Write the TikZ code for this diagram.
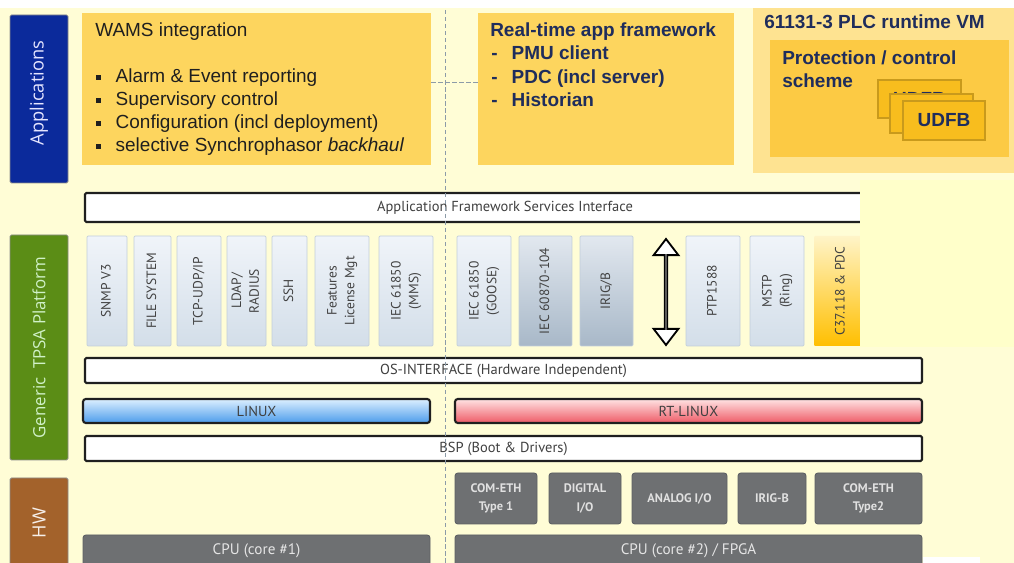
\documentclass[tikz,border=0pt]{standalone}
\usepackage{fontspec}
\setmainfont{Liberation Sans}
\newfontfamily\ptsans{PT Sans}
\newfontfamily\opensans{Open Sans}
\usepackage{tikz}
\usetikzlibrary{fit,shapes.arrows}

\definecolor{bgyellow}{HTML}{FFFDD6}
\definecolor{pasteyellow}{HTML}{FFFFCA}
\definecolor{appyellow}{HTML}{FDD55E}
\definecolor{plcyellow}{HTML}{FEE391}
\definecolor{protyellow}{HTML}{FCCA44}
\definecolor{udfbfill}{HTML}{F8BD1E}
\definecolor{udfbedge}{HTML}{C99A1C}
\definecolor{navy}{HTML}{1F2D5C}
\definecolor{laneblue}{HTML}{0B2A9B}
\definecolor{lanegreen}{HTML}{5B8D16}
\definecolor{lanebrown}{HTML}{A3622B}
\definecolor{stacktop}{HTML}{F0F4F9}
\definecolor{stackbot}{HTML}{D3DEE9}
\definecolor{stackedge}{HTML}{C2CEDA}
\definecolor{darktop}{HTML}{E2E8EF}
\definecolor{darkbot}{HTML}{A8B8C8}
\definecolor{goldtop}{HTML}{FFF4C8}
\definecolor{goldbot}{HTML}{FFBF00}
\definecolor{linuxtop}{HTML}{DCEFFF}
\definecolor{linuxbot}{HTML}{4C9CEB}
\definecolor{rttop}{HTML}{FFE3E3}
\definecolor{rtmid}{HTML}{F7A9AE}
\definecolor{rtbot}{HTML}{EE5A66}
\definecolor{hwgray}{HTML}{6E7072}
\definecolor{hwedge}{HTML}{5D6063}
\definecolor{dashgray}{HTML}{8C9BA8}

\newcommand\vtext[1]{\rotatebox{90}{\begin{tabular}{@{}c@{}}#1\end{tabular}}}
\newcommand\bul{\makebox[13.8pt][l]{\raisebox{0.3ex}{\rule{3.6pt}{3.6pt}}}}
\newcommand\dsh{\makebox[14.5pt][l]{-}}

\begin{document}
\begin{tikzpicture}[x=0.025cm,y=-0.025cm,
lane/.style={draw=black!45,line width=0.6pt,rounded corners=1pt,fill=#1,inner sep=0},
lanelab/.style={inner sep=0,font=\opensans\fontsize{13}{15}\selectfont,text=white!90!blue},
appbox/.style={fill=#1,inner sep=0},
apptext/.style={inner sep=0,font=\fontsize{13.5}{16}\selectfont,text=black!88},
navytext/.style={inner sep=0,font=\bfseries\fontsize{13.5}{16}\selectfont,text=navy},
udfb/.style={draw=udfbedge,line width=0.8pt,fill=udfbfill,inner sep=0},
ifbox/.style={draw=black!88,line width=1.5pt,fill=white,rounded corners=1pt,inner sep=0},
osbar/.style={draw=black!88,line width=1.5pt,rounded corners=2pt,inner sep=0},
barlab/.style={inner sep=0,font=\ptsans\fontsize{10.3}{12}\selectfont,text=black!75},
stackbox/.style={draw=stackedge,line width=0.5pt,rounded corners=0.8pt,top color=stacktop,bottom color=stackbot,inner sep=0},
stackdark/.style={stackbox,top color=darktop,bottom color=darkbot},
stackgold/.style={stackbox,draw=none,top color=goldtop,bottom color=goldbot},
stacklab/.style={inner sep=0,font=\ptsans\fontsize{9.6}{12.5}\selectfont,text=black!74},
sync/.style={double arrow,draw=black,line width=1.3pt,fill=white,inner sep=0pt,minimum height=2.65cm,minimum width=0.62cm,double arrow head extend=0.2cm,double arrow tip angle=75,rotate=90},
hwbox/.style={draw=hwedge,line width=0.6pt,fill=hwgray,rounded corners=2pt,inner sep=0},
hwlab/.style={inner sep=0,align=center,font=\ptsans\bfseries\fontsize{8.8}{13}\selectfont,text=white!88!black},
cpulab/.style={inner sep=0,font=\ptsans\fontsize{10.8}{12}\selectfont,text=white!90!black},
divider/.style={draw=dashgray,line width=0.7pt,dash pattern=on 3pt off 2pt}]
\clip (0,0) rectangle (1014,563);
\fill[white] (0,0) rectangle (1014,563);
\fill[bgyellow] (0,8) rectangle (1014,563);

% left lanes
\node[lane=laneblue,fit={(10,15) (68,183)},label={[lanelab,yshift=0.15cm]center:\rotatebox{90}{Applications}}] (apps) {};
\node[lane=lanegreen,fit={(10,235) (68,460)},label={[lanelab,text=green!12!white!88!lanegreen,font=\opensans\fontsize{12}{14}\selectfont]center:\rotatebox{90}{Generic\ \ TPSA Platform}}] (tpsa) {};
\node[lane=lanebrown,fit={(10,478) (68,568)},label={[lanelab,text=white!90!lanebrown]center:\rotatebox{90}{HW}}] (hw) {};

% applications
\node[appbox=appyellow,fit={(82,13) (431,165)}] (wams) {};
\node[apptext,anchor=base west] (wamstitle) at (95,37) {WAMS integration};
\node[apptext,anchor=base west] (wams1) at (96,83) {\bul Alarm \& Event reporting};
\node[apptext,anchor=base west] (wams2) at (96,106) {\bul Supervisory control};
\node[apptext,anchor=base west] (wams3) at (96,129) {\bul Configuration (incl deployment)};
\node[apptext,anchor=base west] (wams4) at (96,152) {\bul selective Synchrophasor \textit{backhaul}};

\node[appbox=appyellow,fit={(478,13) (734,165)}] (rtapp) {};
\node[navytext,anchor=base west] (rttitle) at (490,37) {Real-time app framework};
\node[navytext,anchor=base west] (rt1) at (491,60) {\dsh PMU client};
\node[navytext,anchor=base west] (rt2) at (491,84) {\dsh PDC (incl server)};
\node[navytext,anchor=base west] (rt3) at (491,107) {\dsh Historian};

\node[appbox=plcyellow,fit={(753,8) (1020,173)}] (plc) {};
\node[navytext,anchor=base west] (plctitle) at (764,29) {61131-3 PLC runtime VM};
\node[appbox=protyellow,fit={(770,40) (1009,157)}] (prot) {};
\node[navytext,anchor=base west] (prottitle) at (782,65) {Protection / control};
\node[navytext,anchor=base west] (protscheme) at (782,88) {scheme};
\node[udfb,fit={(878,80) (961,118)},label={[navytext]center:UDFB}] (udfb3) {};
\node[udfb,fit={(890,94) (973,133)},label={[navytext]center:UDFB}] (udfb2) {};
\node[udfb,fit={(903,101) (985,140)},label={[navytext]center:UDFB}] (udfb1) {};

% platform
\node[ifbox,fit={(85,193) (925,222)},label={[barlab]center:Application Framework Services Interface}] (afsi) {};

\node[stackbox,fit={(87,236) (127,346)},label={[stacklab]center:\vtext{SNMP V3}}] (snmp) {};
\node[stackbox,fit={(134,236) (171,346)},label={[stacklab]center:\vtext{FILE SYSTEM}}] (filesys) {};
\node[stackbox,fit={(177,236) (221,346)},label={[stacklab]center:\vtext{TCP-UDP/IP}}] (tcpip) {};
\node[stackbox,fit={(227,236) (266,346)},label={[stacklab]center:\vtext{LDAP/\\RADIUS}}] (ldap) {};
\node[stackbox,fit={(272,236) (307,346)},label={[stacklab]center:\vtext{SSH}}] (ssh) {};
\node[stackbox,fit={(315,236) (369,346)},label={[stacklab]center:\vtext{Features\\License Mgt}}] (license) {};
\node[stackbox,fit={(379,236) (433,346)},label={[stacklab]center:\vtext{IEC 61850\\(MMS)}}] (mms) {};
\node[stackbox,fit={(457,236) (511,346)},label={[stacklab]center:\vtext{IEC 61850\\(GOOSE)}}] (goose) {};
\node[stackdark,fit={(519,236) (572,346)},label={[stacklab]center:\vtext{IEC 60870-104}}] (iec104) {};
\node[stackdark,fit={(580,236) (633,346)},label={[stacklab]center:\vtext{IRIG/B}}] (irigb) {};
\node[sync] (sync) at (666,292) {};
\node[stackbox,fit={(686,236) (740,346)},label={[stacklab]center:\vtext{PTP1588}}] (ptp) {};
\node[stackbox,fit={(750,236) (804,346)},label={[stacklab]center:\vtext{MSTP\\(Ring)}}] (mstp) {};
\node[stackgold,fit={(814,236) (868,346)},label={[stacklab]center:\vtext{C37.118 \& PDC}}] (c37) {};
\fill[pasteyellow] (860,180) rectangle (1014,347);

\node[ifbox,fit={(85,358) (922,383)},label={[barlab]center:OS-INTERFACE (Hardware Independent)}] (osif) {};
\node[osbar,top color=linuxtop,bottom color=linuxbot,fit={(83,399) (430,423)},label={[barlab]center:LINUX}] (linux) {};
\node[osbar,top color=rttop,middle color=rtmid,bottom color=rtbot,fit={(455,399) (922,423)},label={[barlab]center:RT-LINUX}] (rtlinux) {};
\node[ifbox,fit={(85,436) (922,461)},label={[barlab]center:BSP (Boot \& Drivers)}] (bsp) {};

% hardware
\node[hwbox,fit={(455,473) (537,524)},label={[hwlab]center:COM-ETH\\Type 1}] (eth1) {};
\node[hwbox,fit={(549,473) (621,524)},label={[hwlab]center:DIGITAL\\I/O}] (dio) {};
\node[hwbox,fit={(632,473) (727,524)},label={[hwlab]center:ANALOG I/O}] (aio) {};
\node[hwbox,fit={(738,473) (806,524)},label={[hwlab]center:IRIG-B}] (irig) {};
\node[hwbox,fit={(815,473) (922,524)},label={[hwlab]center:COM-ETH\\Type2}] (eth2) {};
\node[hwbox,fit={(83,535) (430,567)},label={[cpulab]center:CPU (core \#1)}] (cpu1) {};
\node[hwbox,fit={(455,535) (922,567)},label={[cpulab]center:CPU (core \#2) / FPGA}] (cpu2) {};
\fill[white] (923,557) rectangle (980,563);

% split between the two cores
\coordinate (divtop) at (445,10);
\coordinate (divbot) at (445,563);
\coordinate (tie) at (445,82);
\draw[divider] (divtop) -- (divbot);
\draw[divider] (wams.east |- tie) -- (rtapp.west |- tie);
\end{tikzpicture}
\end{document}
